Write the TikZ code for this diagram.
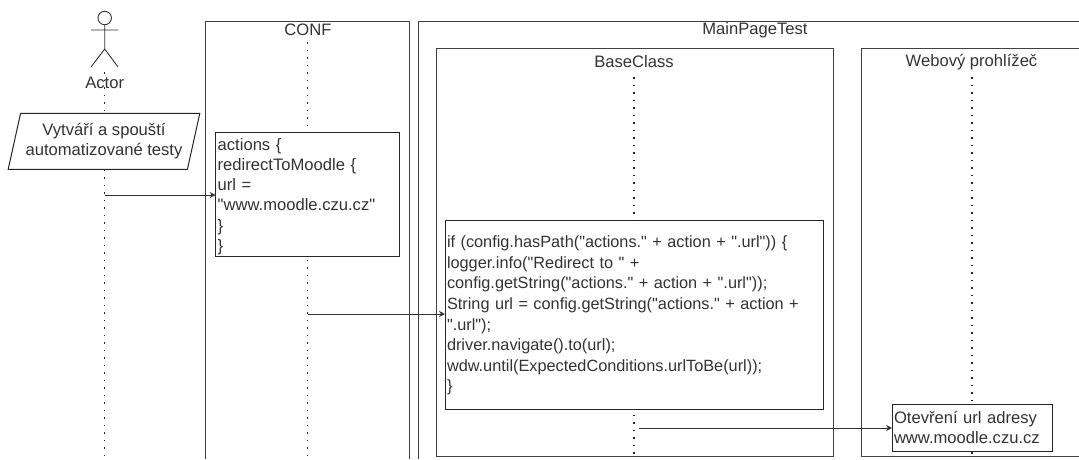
\documentclass[tikz,border=0pt]{standalone}
\usepackage{fontspec}
\setmainfont{Liberation Sans}[Ligatures=TeXOff]
\usetikzlibrary{positioning,arrows.meta,shapes.geometric}

\begin{document}
\begin{tikzpicture}[
% Change style
	x=1pt,y=-1pt,
	line width=0.9pt,
	draw=black!80,
	text=black!80,
	font=\fontsize{16.6}{20.2}\selectfont,
	frame/.style={draw=black!75,line width=1pt},
	title/.style={inner sep=0pt,anchor=center},
	life/.style={black!85,line width=1.5pt,dash pattern=on 1.5pt off 6pt},
	post/.style={-{Stealth[length=6pt,width=6pt]},black!80,line width=0.9pt},
	codebox/.style={draw=black!85,fill=white,line width=1pt,align=left,anchor=north west,
		inner xsep=2pt,inner ysep=0pt,outer sep=0pt},
	push/.style={execute at begin node={\rule{0pt}{#1}}}]

\useasboundingbox (0,0) rectangle (1079,459);

% Frames
\draw[frame] (205.7,459) -- (205.7,21) -- (409,21) -- (409,459);
\draw[frame] (418,459) -- (418,21) -- (1085,21);
\draw[frame] (436,456) -- (436,48) -- (833,48) -- (833,456) -- cycle;
\draw[frame] (1085,456) -- (861,456) -- (861,48) -- (1085,48);

% Titles
\node[title] (conf) at (308,30) {CONF};
\node[title] (main) at (755,30) {MainPageTest};
\node[title] (base) at (634,62) {BaseClass};
\node[title] (web) at (971.5,62) {Webový prohlížeč};

% Actor
\node[circle,draw,minimum size=13.5pt,inner sep=0pt] (head) at (104.7,18) {};
\coordinate (hip) at (104.7,49);
\coordinate (armL) at (91,30);
\coordinate (armR) at (118,30);
\coordinate (footL) at (91,67);
\coordinate (footR) at (118,67);
\draw (head) -- (hip) (armL) -- (armR) (hip) -- (footL) (hip) -- (footR);
\node[title] (actor) at (104.7,83) {Actor};

% Lifelines
\coordinate (actorStart) at (104.7,72);
\coordinate (confStart) at (307.7,42);
\coordinate (baseStart) at (634,77);
\coordinate (webStart) at (972,77);
\draw[life] (actorStart) -- (actorStart |- 0,459);
\draw[life] (confStart) -- (confStart |- 0,459);
\draw[life] (baseStart) -- (baseStart |- 0,459);
\draw[life] (webStart) -- (webStart |- 0,459);

% Actor note
\node[trapezium,trapezium left angle=72,trapezium right angle=-72,draw=black!85,fill=white,
	line width=1pt,align=center,minimum width=192pt,minimum height=56pt,inner sep=0pt,
	trapezium stretches=true] (run) at (104,141.3)
	{Vytváří a spouští\\automatizované testy};

% Code boxes
\node[codebox,push=17pt,text width=179.3pt,minimum height=124pt] (actions) at (215.7,132)
	{actions \{\\redirectToMoodle \{\\url =\\"www.moodle.czu.cz"\\\}\\\}};
\node[codebox,push=14pt,font=\fontsize{16.3}{20.6}\selectfont,text width=374.5pt,minimum height=189pt] (ifcode) at (445,220)
	{if (config.hasPath("actions." + action + ".url")) \{\\
	logger.info("Redirect to " +\\
	config.getString("actions." + action + ".url"));\\
	String url = config.getString("actions." + action +\\
	".url");\\
	driver.navigate().to(url);\\
	wdw.until(ExpectedConditions.urlToBe(url));\\
	\}};
\node[codebox,text width=156pt,minimum height=47pt] (open) at (892,404)
	{Otevření url adresy\\www.moodle.czu.cz};

% Connections
\coordinate (from1) at (104.7,195);
\coordinate (from2) at (308,314);
\coordinate (from3) at (639,428);
\draw[post] (from1) -- (from1 -| actions.west);
\draw[post] (from2) -- (from2 -| ifcode.west);
\draw[post] (from3) -- (from3 -| open.west);

\end{tikzpicture}
\end{document}
